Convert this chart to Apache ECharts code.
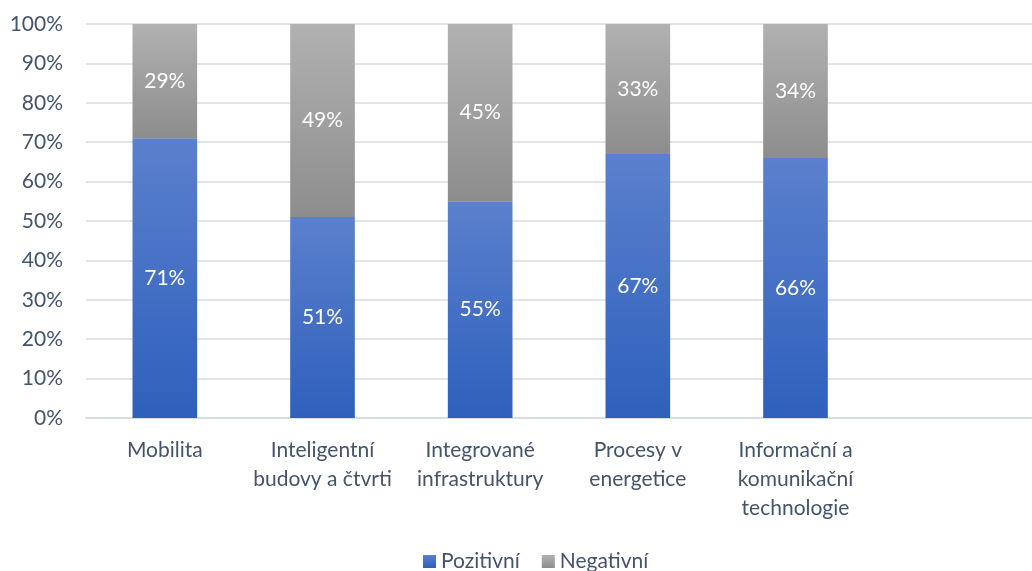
<!DOCTYPE html>
<html><head><meta charset="utf-8">
<script src="https://cdn.jsdelivr.net/npm/echarts@6/dist/echarts.min.js"></script>
<style>html,body{margin:0;padding:0;background:#fff}#c{width:1032px;height:571px}</style>
</head><body><div id="c"></div>
<script>
const categories = ['Mobilita', 'Inteligentní\nbudovy a čtvrti', 'Integrované\ninfrastruktury', 'Procesy v\nenergetice', 'Informační a\nkomunikační\ntechnologie', ''];
const pozitivni = [71, 51, 55, 67, 66];
const negativni = [29, 49, 45, 33, 34];
const yTicks = [0, 10, 20, 30, 40, 50, 60, 70, 80, 90, 100];

const font = 'Lato, "Open Sans", sans-serif';
const textColor = '#44546a';
const fs = 21;
const chart = echarts.init(document.getElementById('c'), null, {renderer: 'canvas'});
const blue = new echarts.graphic.LinearGradient(0, 0, 0, 1, [{offset: 0, color: '#5b80cd'}, {offset: 1, color: '#2e60bc'}]);
const gray = new echarts.graphic.LinearGradient(0, 0, 0, 1, [{offset: 0, color: '#b1b1b1'}, {offset: 1, color: '#8d8d8d'}]);
chart.setOption({
  animation: false,
  textStyle: {fontFamily: font},
  grid: {left: 86, right: -6, top: 24, bottom: 153},
  legend: {
    bottom: -6, left: 418, itemWidth: 13, itemHeight: 13, itemGap: 22,
    icon: 'rect',
    textStyle: {fontSize: fs, color: textColor, fontFamily: font},
    data: ['Pozitivní', 'Negativní']
  },
  xAxis: {
    type: 'category', data: categories,
    axisTick: {show: false},
    axisLine: {lineStyle: {color: '#d9dde3', width: 2}},
    axisLabel: {interval: 0, fontSize: fs, color: textColor, lineHeight: 29, margin: 18, fontFamily: font}
  },
  yAxis: {
    type: 'value', min: 0, max: 100, interval: 10,
    axisLabel: {formatter: v => yTicks.includes(v) ? v + '%' : '', fontSize: fs, color: textColor, margin: 23, fontFamily: font},
    splitLine: {lineStyle: {color: '#e1e5ea', width: 2}},
    axisLine: {show: false}, axisTick: {show: false}
  },
  series: [
    {name: 'Pozitivní', type: 'bar', stack: 's', barWidth: '41%', data: pozitivni,
     itemStyle: {color: blue},
     label: {show: true, position: 'inside', formatter: '{c}%', color: '#fff', fontSize: fs, fontFamily: font}},
    {name: 'Negativní', type: 'bar', stack: 's', barWidth: '41%', data: negativni,
     itemStyle: {color: gray},
     label: {show: true, position: 'inside', formatter: '{c}%', color: '#fff', fontSize: fs, fontFamily: font}}
  ]
});
</script></body></html>
